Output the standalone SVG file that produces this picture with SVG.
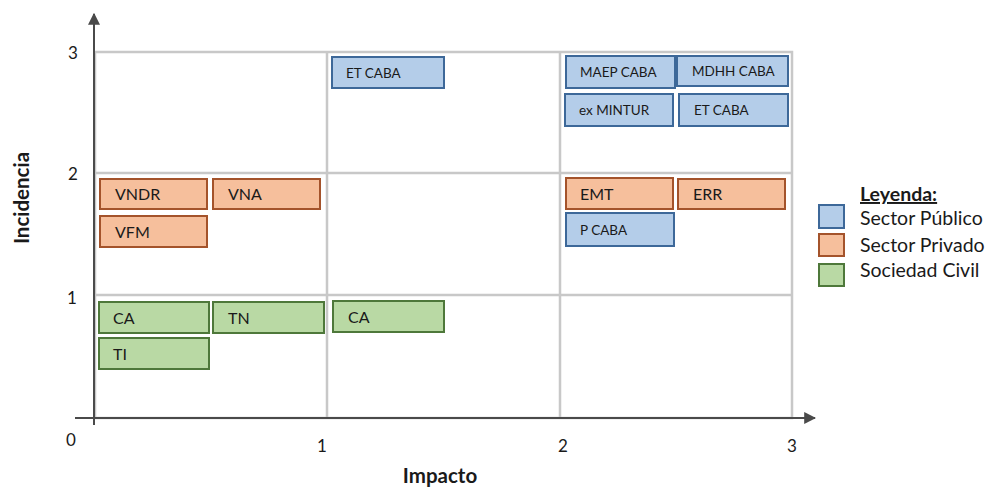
<svg xmlns="http://www.w3.org/2000/svg" width="987" height="489" viewBox="0 0 987 489">
<style>
text{font-family:Lato,"Liberation Sans",sans-serif;fill:#1a1a1a}
.grid{fill:none;stroke:#c8c8c8;stroke-width:2.5}
.axis{stroke:#4a4a4a;stroke-width:2;fill:none}
.pub{fill:#b4cde9;stroke:#3d6899;stroke-width:2}
.pri{fill:#f6bf9c;stroke:#a4532b;stroke-width:2}
.civ{fill:#b9d9a4;stroke:#4e783a;stroke-width:2}
.t{font-size:16px}
.s{font-size:13.5px}
.tick{font-size:17px}
.title{font-size:20.5px;font-weight:bold}
.leg{font-size:19.5px}
</style>
<defs>
<marker id="ah" viewBox="0 0 10 10" refX="9" refY="5" markerWidth="6" markerHeight="6" orient="auto" markerUnits="strokeWidth">
<path d="M0,0 L10,5 L0,10 z" fill="#4a4a4a"/>
</marker>
</defs>
<rect width="987" height="489" fill="#fff"/>
<g id="grid">
<rect class="grid" x="95" y="52" width="697" height="366"/>
<line class="grid" x1="327" y1="52" x2="327" y2="418"/>
<line class="grid" x1="560" y1="52" x2="560" y2="418"/>
<line class="grid" x1="95" y1="173" x2="792" y2="173"/>
<line class="grid" x1="95" y1="295" x2="792" y2="295"/>
</g>
<g id="connectors">
<line class="axis" x1="94" y1="425" x2="94" y2="14" marker-end="url(#ah)"/>
<line class="axis" x1="75" y1="418" x2="815" y2="418" marker-end="url(#ah)"/>
</g>
<g id="ticks">
<text class="tick" x="73" y="59" text-anchor="middle">3</text>
<text class="tick" x="73" y="180" text-anchor="middle">2</text>
<text class="tick" x="72" y="304" text-anchor="middle">1</text>
<text class="tick" x="71" y="446" text-anchor="middle">0</text>
<text class="tick" x="322" y="452" text-anchor="middle">1</text>
<text class="tick" x="563" y="452" text-anchor="middle">2</text>
<text class="tick" x="792" y="452" text-anchor="middle">3</text>
<text class="title" x="440" y="483" text-anchor="middle">Impacto</text>
<text class="title" transform="translate(29,198) rotate(-90)" text-anchor="middle">Incidencia</text>
</g>
<g id="n-etcaba1"><rect class="pub" x="332" y="57" width="112" height="31"/><text class="s" x="346" y="78">ET CABA</text></g>
<g id="n-maep"><rect class="pub" x="566" y="56" width="109" height="32"/><text class="s" x="580" y="77">MAEP CABA</text></g>
<g id="n-mdhh"><rect class="pub" x="677" y="56" width="111" height="30"/><text class="s" x="692" y="76">MDHH CABA</text></g>
<g id="n-mintur"><rect class="pub" x="565" y="94" width="108" height="32"/><text class="s" x="579" y="115">ex MINTUR</text></g>
<g id="n-etcaba2"><rect class="pub" x="679" y="94" width="109" height="32"/><text class="s" x="694" y="115">ET CABA</text></g>
<g id="n-pcaba"><rect class="pub" x="566" y="213" width="108" height="33"/><text class="s" x="580" y="235">P CABA</text></g>
<g id="n-vndr"><rect class="pri" x="100" y="179" width="107" height="30"/><text class="t" x="115" y="200">VNDR</text></g>
<g id="n-vna"><rect class="pri" x="213" y="179" width="107" height="30"/><text class="t" x="228" y="200">VNA</text></g>
<g id="n-vfm"><rect class="pri" x="100" y="216" width="107" height="31"/><text class="t" x="115" y="238">VFM</text></g>
<g id="n-emt"><rect class="pri" x="566" y="178" width="107" height="31"/><text class="t" x="580" y="200">EMT</text></g>
<g id="n-err"><rect class="pri" x="678" y="179" width="107" height="30"/><text class="t" x="693" y="200">ERR</text></g>
<g id="n-ca1"><rect class="civ" x="99" y="302" width="110" height="31"/><text class="t" x="113" y="324">CA</text></g>
<g id="n-tn"><rect class="civ" x="213" y="302" width="111" height="31"/><text class="t" x="228" y="324">TN</text></g>
<g id="n-ca2"><rect class="civ" x="333" y="301" width="111" height="31"/><text class="t" x="348" y="323">CA</text></g>
<g id="n-ti"><rect class="civ" x="99" y="338" width="110" height="31"/><text class="t" x="113" y="360">TI</text></g>
<g id="legend">
<text class="leg" x="860" y="201" font-weight="bold" text-decoration="underline">Leyenda:</text>
<rect class="pub" x="819" y="205" width="25" height="23"/>
<text class="leg" x="860" y="225">Sector Público</text>
<rect class="pri" x="819" y="234" width="25" height="22"/>
<text class="leg" x="860" y="252">Sector Privado</text>
<rect class="civ" x="819" y="264" width="25" height="22"/>
<text class="leg" x="860" y="277">Sociedad Civil</text>
</g>
</svg>
